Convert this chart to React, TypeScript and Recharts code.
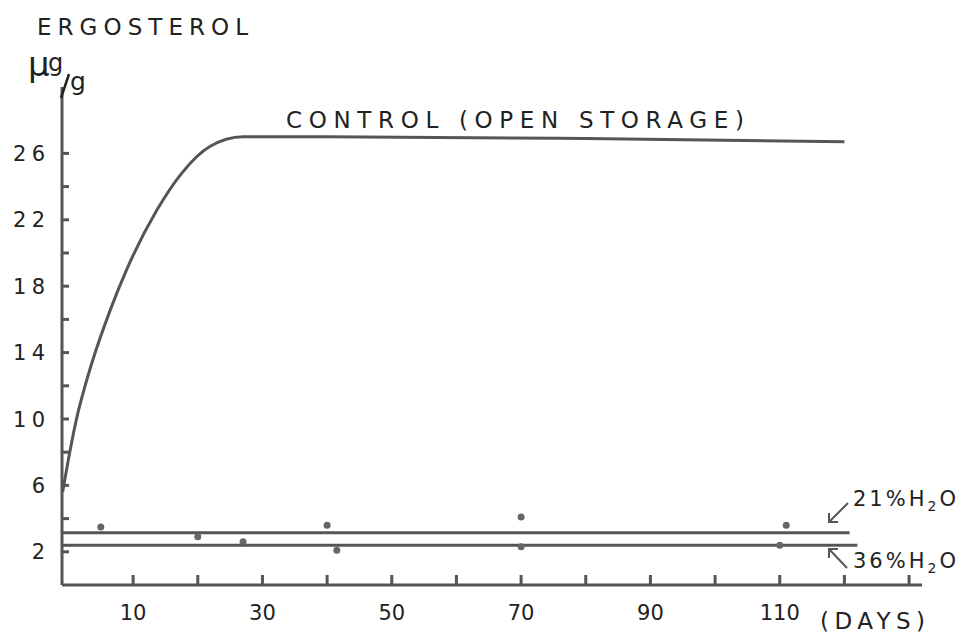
import React from 'react';
import { ComposedChart, Line, Scatter, XAxis, YAxis } from 'recharts';

// control (open storage) curve
const controlDays = [-0.9, 0.2, 1.3, 2.5, 3.8, 6.4, 9, 13.7, 17.5, 21.8, 27, 40, 80, 120];
const controlValues = [5.6, 8, 10.1, 11.9, 13.6, 16.5, 19, 22.6, 24.8, 26.4, 27, 27, 26.9, 26.7];

// fitted flat lines for the stored samples
const h21Days = [-1, 120.8];
const h21Values = [3.15, 3.15];
const h36Days = [-1, 122];
const h36Values = [2.4, 2.4];

// measured points
const h21DotDays = [5, 20, 40, 70, 111];
const h21DotValues = [3.5, 2.9, 3.6, 4.1, 3.6];
const h36DotDays = [27, 41.5, 70, 110];
const h36DotValues = [2.6, 2.1, 2.3, 2.4];

const xTicks = [10, 20, 30, 40, 50, 60, 70, 80, 90, 100, 110, 120, 130];
const xLabels = [10, 30, 50, 70, 90, 110];
const yTicks = [2, 4, 6, 8, 10, 12, 14, 16, 18, 20, 22, 24, 26];
const yLabels = [2, 6, 10, 14, 18, 22, 26];

const INK = '#555';
const TEXT = '#222';
const FONT = '"DejaVu Sans", Lato, sans-serif';

const toPoints = (days: number[], values: number[]) => days.map((d, i) => ({ day: d, value: values[i] }));

const controlData = toPoints(controlDays, controlValues);
const h21Data = toPoints(h21Days, h21Values);
const h36Data = toPoints(h36Days, h36Values);
const h21Dots = toPoints(h21DotDays, h21DotValues);
const h36Dots = toPoints(h36DotDays, h36DotValues);

const YTick = (props: any) => {
  const { x, y, payload } = props;
  const v = payload.value;
  const label = String(v);
  return (
    <g>
      <line x1={x} x2={x + 7} y1={y} y2={y} stroke={INK} strokeWidth={3} />
      {yLabels.includes(v) && (
        <text
          x={x - 17}
          y={y + 7.5}
          textAnchor="end"
          fontSize={21}
          fontFamily={FONT}
          fill={TEXT}
          textLength={label.length > 1 ? 32 : undefined}
          lengthAdjust="spacing"
        >
          {label}
        </text>
      )}
    </g>
  );
};

const XTick = (props: any) => {
  const { x, y, payload } = props;
  const v = payload.value;
  return (
    <g>
      <line x1={x} x2={x} y1={y} y2={y - 10} stroke={INK} strokeWidth={3} />
      {xLabels.includes(v) && (
        <text x={x} y={y + 35} textAnchor="middle" fontSize={21} fontFamily={FONT} fill={TEXT}>
          {v}
        </text>
      )}
    </g>
  );
};

const Dot = (props: any) => <circle cx={props.cx} cy={props.cy} r={3.5} fill="#666" />;

export default function App() {
  return (
    <div style={{ position: 'absolute', left: 0, top: 0, width: 963, height: 636, background: '#fff' }}>
      <ComposedChart width={963} height={636} margin={{ top: 87, right: 41, bottom: 21, left: 22 }}>
        <XAxis
          type="number"
          dataKey="day"
          domain={[-1, 132]}
          ticks={xTicks}
          interval={0}
          allowDataOverflow
          height={30}
          tickSize={0}
          tickMargin={0}
          tickLine={false}
          axisLine={{ stroke: INK, strokeWidth: 3 }}
          tick={<XTick />}
        />
        <YAxis
          type="number"
          dataKey="value"
          domain={[0, 30]}
          ticks={yTicks}
          interval={0}
          allowDataOverflow
          width={40}
          tickSize={0}
          tickMargin={0}
          tickLine={false}
          axisLine={{ stroke: INK, strokeWidth: 3 }}
          tick={<YTick />}
        />
        <Line data={controlData} dataKey="value" type="monotone" stroke={INK} strokeWidth={3} dot={false} isAnimationActive={false} />
        <Line data={h21Data} dataKey="value" type="linear" stroke={INK} strokeWidth={3} dot={false} isAnimationActive={false} />
        <Line data={h36Data} dataKey="value" type="linear" stroke={INK} strokeWidth={3} dot={false} isAnimationActive={false} />
        <Scatter data={h21Dots} dataKey="value" shape={<Dot />} isAnimationActive={false} />
        <Scatter data={h36Dots} dataKey="value" shape={<Dot />} isAnimationActive={false} />
      </ComposedChart>
      <svg width={963} height={636} style={{ position: 'absolute', left: 0, top: 0, pointerEvents: 'none' }} fontFamily={FONT} fill={TEXT}>
        <text x={37} y={35} fontSize={23} textLength={211} lengthAdjust="spacing">ERGOSTEROL</text>
        <text x={28} y={76} fontSize={34}>μ</text>
        <text x={48} y={71} fontSize={24}>g</text>
        <line x1={61} y1={98} x2={69} y2={74} stroke={TEXT} strokeWidth={2.5} />
        <text x={70} y={90} fontSize={25}>g</text>
        <text x={286} y={128} fontSize={23} textLength={458} lengthAdjust="spacing">CONTROL (OPEN STORAGE)</text>
        <text x={820} y={629} fontSize={23} textLength={105} lengthAdjust="spacing">(DAYS)</text>
        <text x={853} y={506} fontSize={21} letterSpacing={3}>
          21%H<tspan dy={5} fontSize={14}>2</tspan><tspan dy={-5} fontSize={21}>O</tspan>
        </text>
        <text x={853} y={568} fontSize={21} letterSpacing={3}>
          36%H<tspan dy={5} fontSize={14}>2</tspan><tspan dy={-5} fontSize={21}>O</tspan>
        </text>
        <g stroke={INK} strokeWidth={2} fill="none">
          <line x1={848} y1={503} x2={829} y2={522} />
          <polyline points="829,513 829,522 838,522" />
          <line x1={847} y1={568} x2={829} y2={549} />
          <polyline points="829,558 829,549 838,549" />
        </g>
      </svg>
    </div>
  );
}
